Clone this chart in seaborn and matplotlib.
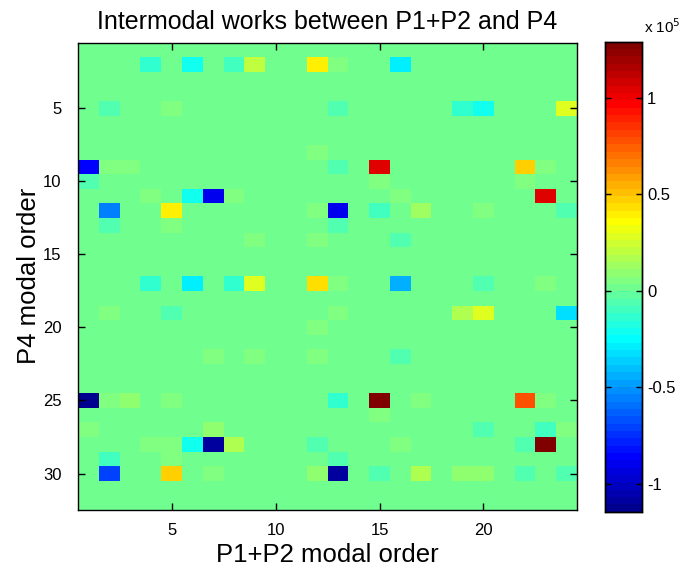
import numpy as np
import pandas as pd
import matplotlib
matplotlib.use("Agg")
import matplotlib.pyplot as plt
from matplotlib.colors import ListedColormap
import seaborn as sns

# ---- data (values in units of 1e5) ----
n_rows, n_cols = 32, 24
cell_rows = [2, 2, 2, 2, 2, 2, 2,
             5, 5, 5, 5, 5, 5,
             8,
             9, 9, 9, 9, 9, 9, 9,
             10, 10, 10,
             11, 11, 11, 11, 11, 11,
             12, 12, 12, 12, 12, 12, 12, 12,
             13, 13, 13,
             14, 14, 14,
             17, 17, 17, 17, 17, 17, 17, 17, 17,
             19, 19, 19, 19, 19, 19,
             20,
             22, 22, 22, 22,
             25, 25, 25, 25, 25, 25, 25, 25, 25,
             26,
             27, 27, 27, 27, 27,
             28, 28, 28, 28, 28, 28, 28, 28, 28,
             29, 29, 29,
             30, 30, 30, 30, 30, 30, 30, 30, 30, 30, 30]
cell_cols = [4, 6, 8, 9, 12, 13, 16,
             2, 5, 13, 19, 20, 24,
             12,
             1, 2, 3, 13, 15, 22, 23,
             1, 15, 22,
             4, 6, 7, 8, 16, 23,
             2, 5, 12, 13, 15, 17, 20, 24,
             2, 5, 13,
             9, 12, 16,
             4, 6, 8, 9, 12, 13, 16, 20, 23,
             2, 5, 13, 19, 20, 24,
             12,
             7, 9, 12, 16,
             1, 2, 3, 5, 13, 15, 17, 22, 23,
             15,
             1, 7, 20, 23, 24,
             4, 5, 6, 7, 8, 12, 16, 22, 23,
             2, 5, 13,
             2, 5, 7, 12, 13, 15, 17, 19, 20, 22, 24]
cell_vals = [-0.12, -0.20, -0.10, 0.22, 0.38, 0.06, -0.30,
             -0.05, 0.05, -0.05, -0.15, -0.20, 0.28,
             0.05,
             -0.85, 0.06, 0.06, -0.05, 1.03, 0.48, 0.06,
             -0.05, 0.06, 0.06,
             0.05, -0.20, -0.90, 0.07, 0.04, 1.03,
             -0.55, 0.38, 0.06, -0.90, -0.10, 0.12, 0.06, -0.07,
             -0.05, 0.04, -0.05,
             0.04, 0.04, -0.05,
             -0.15, -0.27, -0.14, 0.30, 0.45, 0.06, -0.45, -0.05, 0.04,
             0.04, -0.05, 0.06, 0.15, 0.27, -0.33,
             0.04,
             0.06, 0.06, 0.06, -0.05,
             -1.145, 0.06, 0.10, 0.04, -0.12, 1.29, 0.06, 0.78, 0.06,
             0.06,
             0.04, 0.08, -0.05, -0.10, 0.06,
             0.04, 0.04, -0.20, -1.10, 0.16, -0.05, 0.06, -0.05, 1.26,
             -0.10, 0.04, -0.05,
             -0.70, 0.48, 0.04, 0.10, -1.10, -0.07, 0.17, 0.08, 0.08, -0.07, -0.07]
scale = 1e5
x_ticks = [5, 10, 15, 20]
y_ticks = [5, 10, 15, 20, 25, 30]
cbar_ticks = [-1, -0.5, 0, 0.5, 1]
cbar_labels = ["-1", "-0.5", "0", "0.5", "1"]

mat = np.zeros((n_rows, n_cols))
for r, c, v in zip(cell_rows, cell_cols, cell_vals):
    mat[r - 1, c - 1] = v * scale
df = pd.DataFrame(mat, index=range(1, n_rows + 1), columns=range(1, n_cols + 1))

# MATLAB-style jet(64)
def matlab_jet(n=64):
    m = int(np.ceil(n / 4))
    u = np.concatenate([np.arange(1, m + 1) / m, np.ones(m - 1), np.arange(m, 0, -1) / m])
    g = int(np.ceil(m / 2)) - (1 if n % 4 == 1 else 0) + np.arange(1, len(u) + 1)
    r = g + m
    b = g - m
    J = np.zeros((n, 3))
    for idx, val in zip(r, u):
        if 1 <= idx <= n:
            J[idx - 1, 0] = val
    for idx, val in zip(g, u):
        if 1 <= idx <= n:
            J[idx - 1, 1] = val
    for idx, val in zip(b, u):
        if 1 <= idx <= n:
            J[idx - 1, 2] = val
    return ListedColormap(J)

fam = ["Liberation Sans", "DejaVu Sans"]
plt.rcParams["font.family"] = fam

fig = plt.figure(figsize=(6.88, 5.67), dpi=100)
ax = fig.add_axes([0.1134, 0.1005, 0.7253, 0.8242])
cax = fig.add_axes([0.8794, 0.0975, 0.0538, 0.829])

sns.heatmap(df, ax=ax, cbar_ax=cax, cmap=matlab_jet(64),
            vmin=df.values.min(), vmax=df.values.max(),
            xticklabels=False, yticklabels=False, linewidths=0)

ax.set_xticks([t - 0.5 for t in x_ticks])
ax.set_xticklabels([str(t) for t in x_ticks], rotation=0)
ax.set_yticks([t - 0.5 for t in y_ticks])
ax.set_yticklabels([str(t) for t in y_ticks], rotation=0)
ax.tick_params(direction="in", top=True, right=True, length=5, width=1,
               labelsize=12, colors="black")
ax.tick_params(axis="x", pad=9)
ax.tick_params(axis="y", pad=12)
for s in ax.spines.values():
    s.set_visible(True)
    s.set_linewidth(1)
    s.set_color("black")

ax.set_title("Intermodal works between P1+P2 and P4", fontsize=18, pad=10)
ax.set_xlabel("P1+P2 modal order", fontsize=18.5, labelpad=4)
ax.set_ylabel("P4 modal order", fontsize=18.5, labelpad=1)

cax.set_yticks([t * scale for t in cbar_ticks])
cax.set_yticklabels(cbar_labels)
cax.tick_params(direction="in", left=True, right=True, length=4, width=1,
                labelsize=12)
for s in cax.spines.values():
    s.set_visible(True)
    s.set_linewidth(1)
cax.text(1.05, 1.012, r"x 10$^5$", transform=cax.transAxes, fontsize=11,
         ha="left", va="bottom")

fig.savefig("out.png", dpi=100, facecolor="white")
